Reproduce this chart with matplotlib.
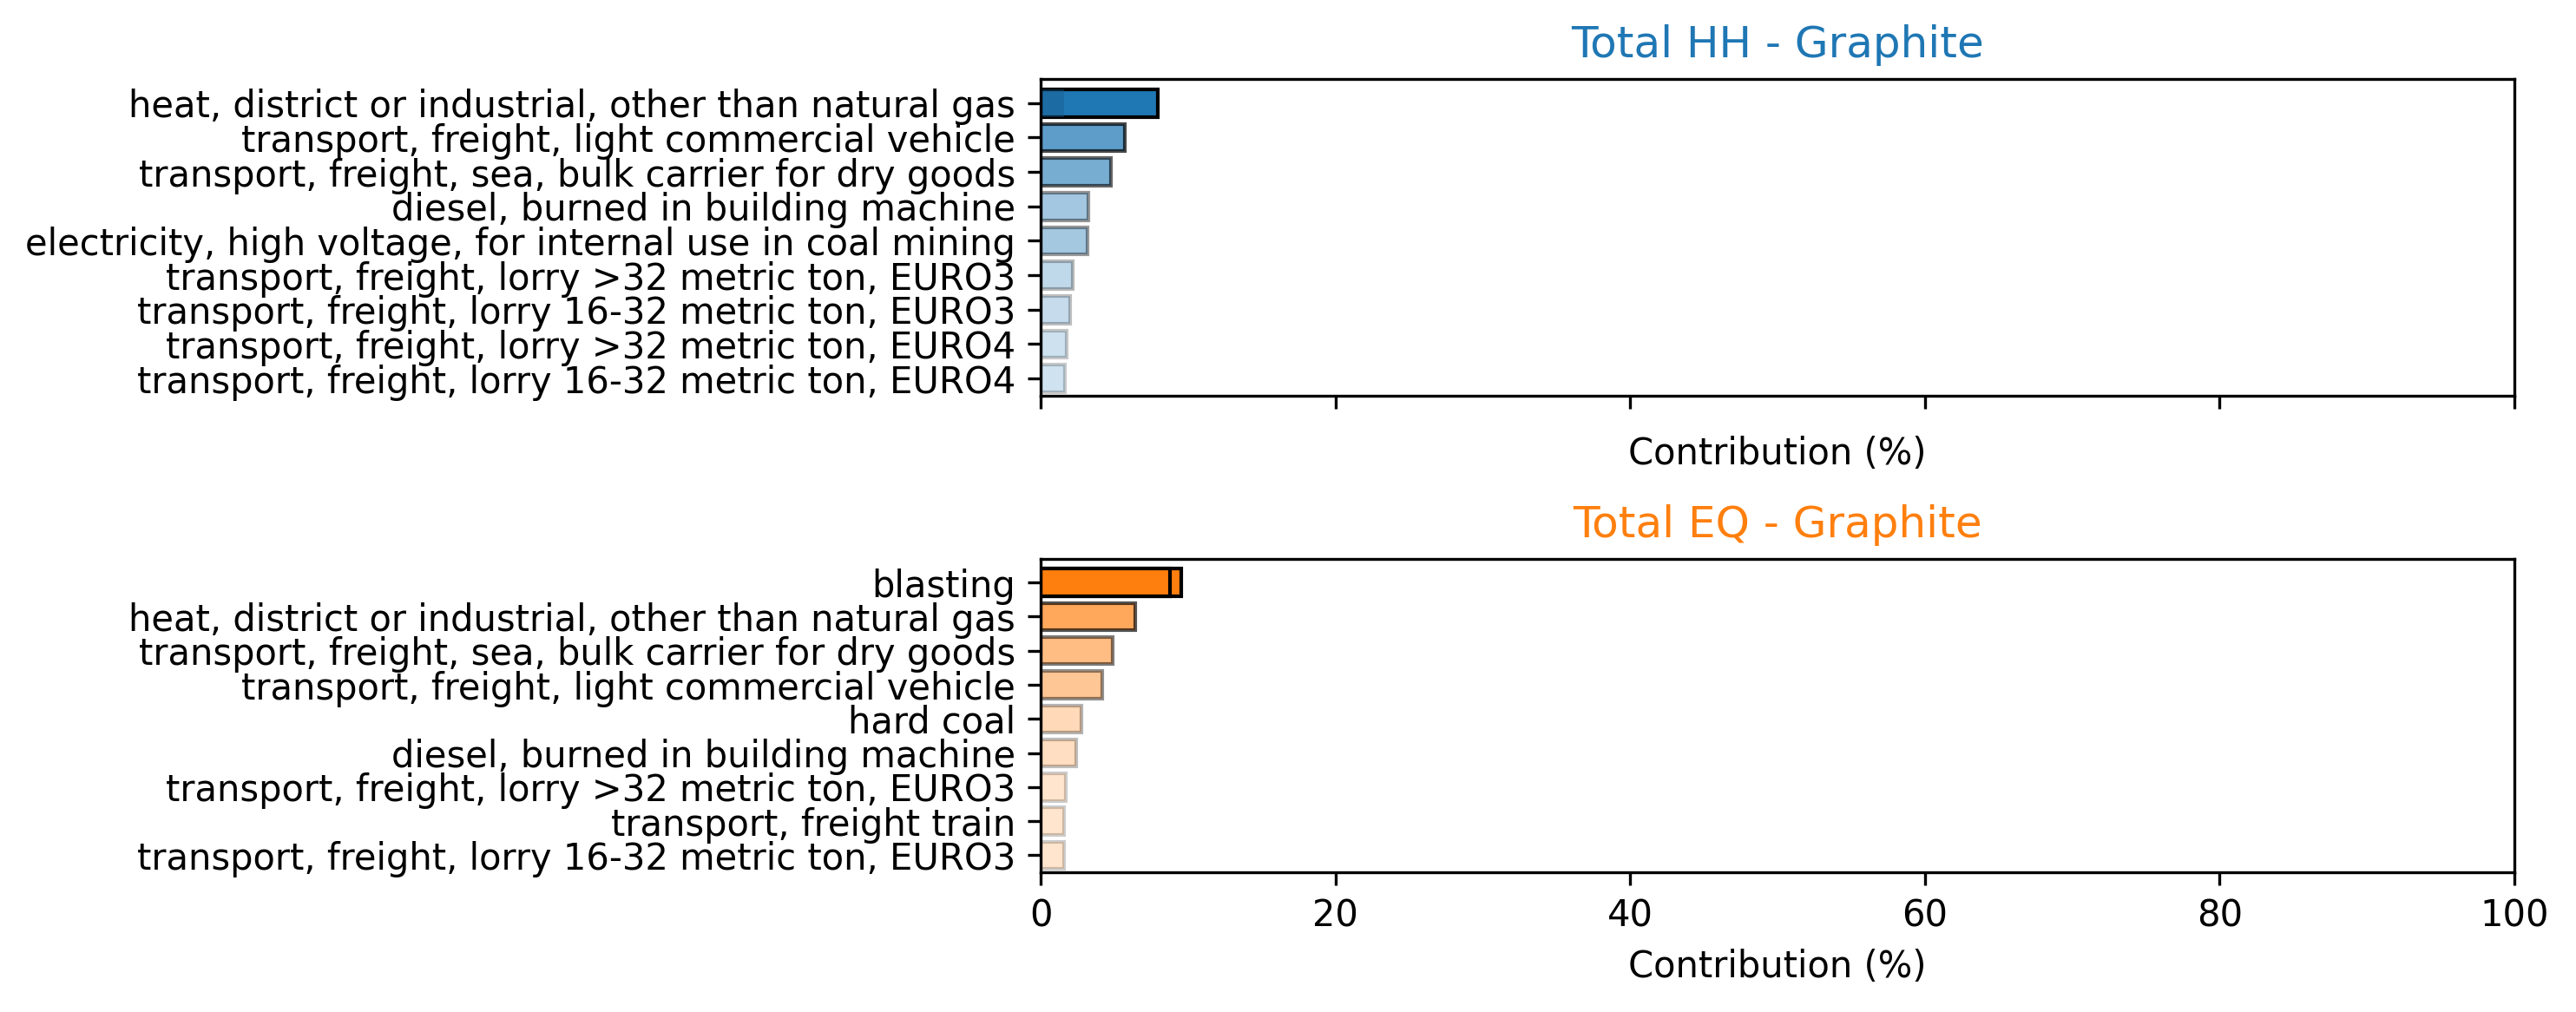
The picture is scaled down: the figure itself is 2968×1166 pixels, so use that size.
import matplotlib.pyplot as plt
import numpy as np

hh_labels = [
    "heat, district or industrial, other than natural gas",
    "transport, freight, light commercial vehicle",
    "transport, freight, sea, bulk carrier for dry goods",
    "diesel, burned in building machine",
    "electricity, high voltage, for internal use in coal mining",
    "transport, freight, lorry >32 metric ton, EURO3",
    "transport, freight, lorry 16-32 metric ton, EURO3",
    "transport, freight, lorry >32 metric ton, EURO4",
    "transport, freight, lorry 16-32 metric ton, EURO4",
]
hh_values = [7.94, 5.7, 4.77, 3.24, 3.18, 2.2, 2.0, 1.75, 1.67]
hh_inner = 1.6

eq_labels = [
    "blasting",
    "heat, district or industrial, other than natural gas",
    "transport, freight, sea, bulk carrier for dry goods",
    "transport, freight, light commercial vehicle",
    "hard coal",
    "diesel, burned in building machine",
    "transport, freight, lorry >32 metric ton, EURO3",
    "transport, freight train",
    "transport, freight, lorry 16-32 metric ton, EURO3",
]
eq_values = [9.53, 6.42, 4.9, 4.18, 2.79, 2.43, 1.72, 1.57, 1.57]
eq_inner = 8.77

fig = plt.figure(figsize=(2968 / 300, 1166 / 300), dpi=300)
ax1 = fig.add_axes([0.404, 0.609, 0.572, 0.313])
ax2 = fig.add_axes([0.404, 0.138, 0.572, 0.310])


def draw(ax, labels, values, color, title):
    y = np.arange(len(values))
    vmax = max(values)
    for yi, v in zip(y, values):
        a = max(0.2, v / vmax)
        ax.barh(yi, v, height=0.8, color=color, alpha=a, edgecolor="black", linewidth=1)
    ax.set_yticks(y)
    ax.set_yticklabels(labels)
    ax.set_ylim(len(values) - 0.5, -0.7)
    ax.set_xlim(0, 100)
    ax.set_xlabel("Contribution (%)")
    ax.set_title(title, color=color)


draw(ax1, hh_labels, hh_values, "tab:blue", "Total HH - Graphite")
ax1.barh(0, hh_inner, height=0.8, color="#1a5a8a", alpha=0.4, linewidth=0)
ax1.set_xticklabels([])
draw(ax2, eq_labels, eq_values, "tab:orange", "Total EQ - Graphite")
ax2.barh(0, eq_inner, height=0.8, color="tab:orange", edgecolor="black", linewidth=1)

plt.savefig("out.png", dpi=300)
